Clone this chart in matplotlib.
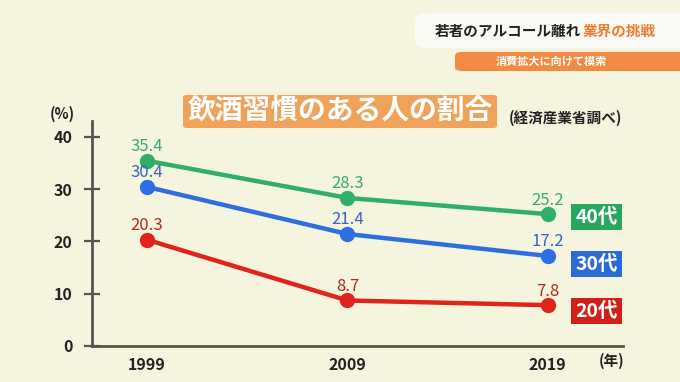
import matplotlib.pyplot as plt
from matplotlib.patches import FancyBboxPatch, Rectangle

plt.rcParams['font.family'] = ['Noto Sans CJK JP', 'DejaVu Sans']

years = [1999, 2009, 2019]
age_groups = ['40代', '30代', '20代']
rate_40s = [35.4, 28.3, 25.2]
rate_30s = [30.4, 21.4, 17.2]
rate_20s = [20.3, 8.7, 7.8]
y_ticks = [0, 10, 20, 30, 40]

W, H = 680, 382
BG = '#f5f4de'
colors = {'40代': '#2faf68', '30代': '#2f6ee0', '20代': '#e0231b'}
label_colors = {'40代': '#3aa874', '30代': '#3563c2', '20代': '#ad2a22'}
tag_colors = {'40代': '#27a65e', '30代': '#2b6bd6', '20代': '#d41f18'}


def fx(px):
    return px / W


def fy(py):
    return 1 - py / H


fig = plt.figure(figsize=(6.8, 3.82), dpi=100)
fig.patch.set_facecolor(BG)

ax = fig.add_axes([fx(92), fy(346), fx(623) - fx(92), fy(121) - fy(346)])
ax.set_facecolor('none')
ax.set_xlim(1996.25, 2022.75)
ax.set_ylim(0, 43)
for s in ['top', 'right']:
    ax.spines[s].set_visible(False)
for s in ['left', 'bottom']:
    ax.spines[s].set_color('#555550')
    ax.spines[s].set_linewidth(2)

ax.set_yticks(y_ticks)
ax.set_yticklabels([str(t) for t in y_ticks], fontsize=11.5, fontweight='bold', color='#222222')
ax.tick_params(axis='y', direction='inout', length=12, width=1.6, color='#555550', pad=8)
ax.set_xticks(years)
ax.set_xticklabels([str(y) for y in years], fontsize=11.5, fontweight='bold', color='#222222')
ax.tick_params(axis='x', length=0, pad=8)

series = {'40代': rate_40s, '30代': rate_30s, '20代': rate_20s}
for grp in age_groups:
    vals = series[grp]
    ax.plot(years, vals, color=colors[grp], lw=3.2, marker='o', ms=10,
            solid_capstyle='round', zorder=3)
    for x, v in zip(years, vals):
        ax.annotate(f'{v}', xy=(x, v), xytext=(0, 4), textcoords='offset points',
                    ha='center', va='bottom', fontsize=12, color=label_colors[grp],
                    zorder=5)

fig.text(fx(62), fy(114), '(%)', ha='center', va='center', fontsize=10.5,
         fontweight='bold', color='#222222')
fig.text(fx(612), fy(361), '(年)', ha='center', va='center', fontsize=10.5,
         fontweight='bold', color='#222222')

# age tags
tag_y = {'40代': 217, '30代': 264, '20代': 311}
for grp in age_groups:
    fig.patches.append(Rectangle((fx(571), fy(tag_y[grp] + 13)), fx(51), fy(0) - fy(26),
                                 transform=fig.transFigure, facecolor=tag_colors[grp],
                                 edgecolor='none'))
    fig.text(fx(596.5), fy(tag_y[grp]), grp, ha='center', va='center', fontsize=14,
             fontweight='bold', color='white')

# chart title
fig.patches.append(FancyBboxPatch((fx(183), fy(128)), fx(314), fy(0) - fy(33),
                                  boxstyle='round,pad=0,rounding_size=0.006',
                                  transform=fig.transFigure, facecolor='#efa35a',
                                  edgecolor='none'))
fig.text(fx(340), fy(111), '飲酒習慣のある人の割合', ha='center', va='center',
         fontsize=20, fontweight='bold', color='white')
fig.text(fx(565), fy(118), '(経済産業省調べ)', ha='center', va='center',
         fontsize=10.5, fontweight='bold', color='#222222')

# header
fig.patches.append(FancyBboxPatch((fx(415), fy(48)), fx(280), fy(0) - fy(35),
                                  boxstyle='round,pad=0,rounding_size=0.02',
                                  transform=fig.transFigure, facecolor='#fbfbf6',
                                  edgecolor='none'))
fig.text(fx(435), fy(31), '若者のアルコール離れ', ha='left', va='center',
         fontsize=10.5, fontweight='bold', color='#222222')
fig.text(fx(583), fy(31), '業界の挑戦', ha='left', va='center',
         fontsize=10.5, fontweight='bold', color='#f07a2e')
fig.patches.append(FancyBboxPatch((fx(455), fy(71)), fx(240), fy(0) - fy(19),
                                  boxstyle='round,pad=0,rounding_size=0.01',
                                  transform=fig.transFigure, facecolor='#f28a44',
                                  edgecolor='none'))
fig.text(fx(551), fy(61), '消費拡大に向けて模索', ha='center', va='center',
         fontsize=8, fontweight='bold', color='white')

fig.savefig('out.png', dpi=100, facecolor=BG)
